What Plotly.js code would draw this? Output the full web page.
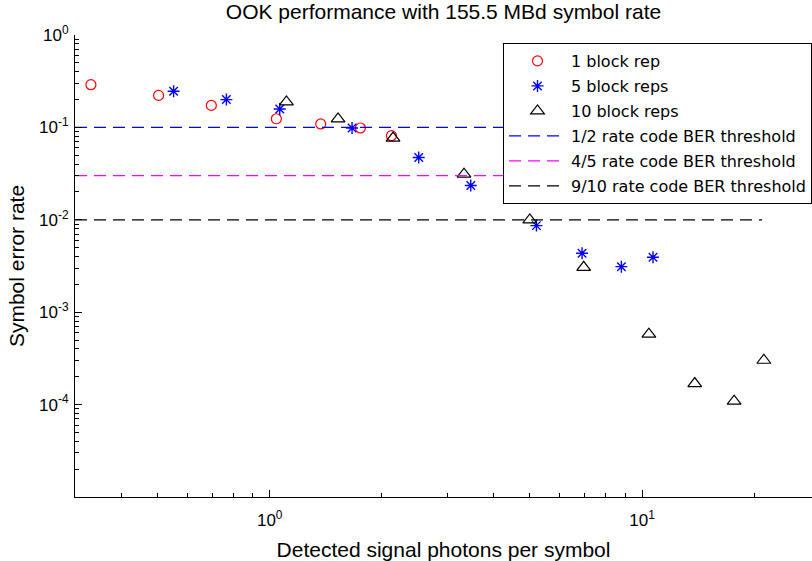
<!DOCTYPE html>
<html>
<head>
<meta charset="utf-8">
<script src="https://cdn.plot.ly/plotly-3.0.1.min.js"></script>
<style>html,body{margin:0;padding:0;background:#fff;overflow:hidden}#chart{width:812px;height:561px}</style>
</head>
<body>
<div id="chart"></div>
<script>
// 1 block rep
const rep1X = [0.331, 0.503, 0.697, 1.042, 1.371, 1.752, 2.123];
const rep1Y = [0.290, 0.222, 0.173, 0.124, 0.109, 0.0985, 0.0813];
// 5 block reps
const rep5X = [0.552, 0.765, 1.064, 1.664, 2.513, 3.467, 5.204, 6.90, 8.80, 10.70];
const rep5Y = [0.246, 0.200, 0.158, 0.0985, 0.0473, 0.0235, 0.00865, 0.00434, 0.00311, 0.00393];
// 10 block reps
const rep10X = [1.109, 1.526, 2.144, 3.325, 4.994, 6.97, 10.43, 13.85, 17.67, 21.23];
const rep10Y = [0.1886, 0.1234, 0.0767, 0.0312, 0.00997, 0.00306, 0.000579, 0.000169, 0.000109, 0.000302];
// thresholds
const thrX = [0.3, 21];
const thrHalf = [0.1, 0.1];
const thrFourFifths = [0.03, 0.03];
const thrNineTenths = [0.01, 0.01];

const xTickVals = [1, 10];
const xTickText = ['10<sup>0</sup>', '10<sup>1</sup>'];
const yTickVals = [1e-4, 1e-3, 1e-2, 1e-1, 1];
const yTickText = ['10<sup>-4</sup>', '10<sup>-3</sup>', '10<sup>-2</sup>', '10<sup>-1</sup>', '10<sup>0</sup>'];

const minorX = [];
[0.1, 1, 10].forEach(d => { for (let k = 2; k <= 9; k++) minorX.push(k * d); });
const minorY = [];
[1e-5, 1e-4, 1e-3, 1e-2, 1e-1].forEach(d => { for (let k = 2; k <= 9; k++) minorY.push(k * d); });

const dashPat = '12px,7px';
const traces = [
  {x: rep1X, y: rep1Y, name: '1 block rep', mode: 'markers', legendgroup: 'a',
   marker: {symbol: 'circle-open', size: 10, color: '#ff0000', line: {width: 1.2, color: '#ff0000'}}},
  {x: rep5X, y: rep5Y, name: '5 block reps', mode: 'markers', legendgroup: 'b',
   marker: {symbol: 'asterisk-open', size: 10, color: '#0000ff', line: {width: 1.4, color: '#0000ff'}}},
  {x: rep10X, y: rep10Y, name: '10 block reps', mode: 'markers', legendgroup: 'c',
   marker: {symbol: 'triangle-up-open', size: 12, color: '#000000', line: {width: 1.2, color: '#000000'}}},
  {x: thrX, y: thrHalf, name: '1/2 rate code BER threshold', mode: 'lines', legendgroup: 'd',
   line: {color: '#0000ff', width: 1.2, dash: dashPat}},
  {x: thrX, y: thrFourFifths, name: '4/5 rate code BER threshold', mode: 'lines', legendgroup: 'e',
   line: {color: '#ff00ff', width: 1.2, dash: dashPat}},
  {x: thrX, y: thrNineTenths, name: '9/10 rate code BER threshold', mode: 'lines', legendgroup: 'f',
   line: {color: '#000000', width: 1.2, dash: dashPat}}
];

const axisFont = {family: 'Liberation Sans, Arial, sans-serif', size: 17, color: '#000'};
const labelFont = {family: 'Liberation Sans, Arial, sans-serif', size: 21, color: '#000'};
const layout = {
  width: 812, height: 561,
  paper_bgcolor: '#fff', plot_bgcolor: '#fff',
  margin: {l: 75, r: 0, t: 35, b: 64, autoexpand: false},
  title: {text: 'OOK performance with 155.5 MBd symbol rate', x: 0.5, xref: 'paper', xanchor: 'center',
          y: 1 - 12 / 561, yanchor: 'middle', font: labelFont},
  xaxis: {type: 'log', range: [Math.log10(0.3), Math.log10(28.6)],
          showline: true, linecolor: '#000', linewidth: 1, mirror: false,
          showgrid: false, zeroline: false,
          tickmode: 'array', tickvals: xTickVals, ticktext: xTickText,
          ticks: 'inside', ticklen: 7, tickcolor: '#000', tickwidth: 1,
          ticklabelstandoff: 8,
          tickfont: axisFont,
          minor: {tickmode: 'array', tickvals: minorX, ticks: 'inside', ticklen: 4, tickcolor: '#000', showgrid: false},
          title: {text: 'Detected signal photons per symbol', standoff: 14, font: labelFont}},
  yaxis: {type: 'log', range: [-5, 0],
          showline: true, linecolor: '#000', linewidth: 1, mirror: false,
          showgrid: false, zeroline: false,
          tickmode: 'array', tickvals: yTickVals, ticktext: yTickText,
          ticks: 'inside', ticklen: 7, tickcolor: '#000', tickwidth: 1,
          ticklabelstandoff: 2,
          tickfont: axisFont,
          minor: {tickmode: 'array', tickvals: minorY, ticks: 'inside', ticklen: 4, tickcolor: '#000', showgrid: false},
          title: {text: 'Symbol error rate', standoff: 8, font: labelFont}},
  showlegend: true,
  legend: {x: (503 - 75) / 737, y: (497 - 43) / 462, xanchor: 'left', yanchor: 'top',
           bgcolor: '#fff', bordercolor: '#000', borderwidth: 1,
           font: {family: 'DejaVu Sans, sans-serif', size: 16, color: '#000'},
           itemwidth: 57,
           traceorder: 'grouped', tracegroupgap: 1.2}
};

Plotly.newPlot('chart', traces, layout, {displayModeBar: false, staticPlot: true});
</script>
</body>
</html>
